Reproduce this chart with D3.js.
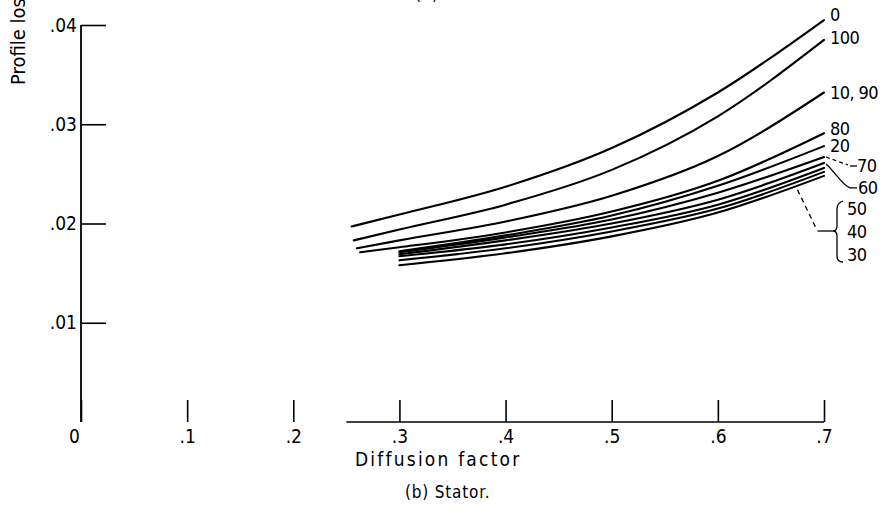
<!DOCTYPE html>
<html>
<head>
<meta charset="utf-8">
<script src="https://cdn.jsdelivr.net/npm/d3@7"></script>
<style>
  html, body { margin: 0; padding: 0; background: #fff; }
  svg { display: block; }
  text { font-family: "DejaVu Sans Condensed", "Liberation Sans Narrow", sans-serif; fill: #000; }
</style>
</head>
<body>
<svg id="chart" width="892" height="514"></svg>
<script>
// Axis ticks
const xTicks = [0, 0.1, 0.2, 0.3, 0.4, 0.5, 0.6, 0.7];
const yTicks = [0.01, 0.02, 0.03, 0.04];

// Profile loss vs. diffusion factor, one curve per immersion percentage: [diffusion factor, loss]
const loss0   = [[0.255, 0.0197], [0.3, 0.0209], [0.4, 0.0237], [0.5, 0.0276], [0.6, 0.0332], [0.7, 0.0405]];
const loss100 = [[0.257, 0.0183], [0.3, 0.0194], [0.4, 0.0219], [0.5, 0.0254], [0.6, 0.0308], [0.7, 0.0385]];
const loss10  = [[0.260, 0.0175], [0.3, 0.0183], [0.4, 0.0202], [0.5, 0.0228], [0.6, 0.0268], [0.7, 0.0332]];
const loss80  = [[0.263, 0.0171], [0.3, 0.0176], [0.4, 0.0191], [0.5, 0.0212], [0.6, 0.0243], [0.7, 0.0291]];
const loss20  = [[0.3, 0.0172], [0.4, 0.0188], [0.5, 0.0208], [0.6, 0.0238], [0.7, 0.0278]];
const loss70  = [[0.3, 0.0171], [0.4, 0.0186], [0.5, 0.0204], [0.6, 0.0231], [0.7, 0.0267]];
const loss60  = [[0.3, 0.0169], [0.4, 0.0183], [0.5, 0.0200], [0.6, 0.0224], [0.7, 0.0261]];
const loss50  = [[0.3, 0.0167], [0.4, 0.0179], [0.5, 0.0196], [0.6, 0.0219], [0.7, 0.0256]];
const loss40  = [[0.3, 0.0163], [0.4, 0.0175], [0.5, 0.0192], [0.6, 0.0215], [0.7, 0.0252]];
const loss30  = [[0.3, 0.0158], [0.4, 0.0170], [0.5, 0.0187], [0.6, 0.0211], [0.7, 0.0248]];

const seriesLabels = ["0", "100", "10, 90", "80", "20", "70", "60", "50", "40", "30"];
const seriesData = [loss0, loss100, loss10, loss80, loss20, loss70, loss60, loss50, loss40, loss30];

const svg = d3.select("#chart");
const FONT = 19;
const LABEL_FONT = 18;

const x = d3.scaleLinear().domain([0, 0.7]).range([81, 824]);
const y = d3.scaleLinear().domain([0, 0.04]).range([422, 25]);

const trimZero = v => v === 0 ? "0" : d3.format(".2~f")(v).replace(/^0/, "");

// Y axis: ticks pointing into the plot
const yAxis = svg.append("g")
  .attr("transform", `translate(${x(0)},0)`)
  .call(d3.axisLeft(y).tickValues(yTicks).tickSizeInner(-25).tickSizeOuter(0).tickPadding(4).tickFormat(trimZero));
yAxis.select(".domain").remove();
yAxis.selectAll(".tick line").attr("stroke", "#000").attr("stroke-width", 1.6);
yAxis.selectAll("text").attr("font-size", FONT).attr("font-family", null);
svg.append("line")
  .attr("x1", x(0)).attr("x2", x(0)).attr("y1", y(0.04)).attr("y2", y(0))
  .attr("stroke", "#000").attr("stroke-width", 1.8);

// X axis: upward ticks, baseline drawn only under the plotted range
const xAxis = svg.append("g")
  .attr("transform", `translate(0,${y(0)})`)
  .call(d3.axisBottom(x).tickValues(xTicks).tickSizeInner(-22).tickSizeOuter(0).tickPadding(8).tickFormat(trimZero));
xAxis.select(".domain").remove();
xAxis.selectAll(".tick line").attr("stroke", "#000").attr("stroke-width", 1.6);
xAxis.selectAll("text").attr("font-size", FONT).attr("font-family", null);
xAxis.selectAll(".tick").filter(d => d === 0).select("text").attr("dx", -7);
svg.append("line")
  .attr("x1", x(0.25)).attr("x2", x(0.7)).attr("y1", y(0)).attr("y2", y(0))
  .attr("stroke", "#000").attr("stroke-width", 1.3);

// Curves
const line = d3.line().x(d => x(d[0])).y(d => y(d[1])).curve(d3.curveMonotoneX);
svg.append("g")
  .selectAll("path")
  .data(seriesData)
  .join("path")
  .attr("d", line)
  .attr("fill", "none")
  .attr("stroke", "#000")
  .attr("stroke-width", 2.1)
  .attr("stroke-linecap", "round");

// Curve labels
const endOf = s => s[s.length - 1];
const labels = svg.append("g").attr("font-size", LABEL_FONT).attr("letter-spacing", -0.6);
function label(txt, px, py) {
  labels.append("text").attr("x", px).attr("y", py).attr("dy", "0.36em").text(txt);
}
const xe = x(0.7);
label(seriesLabels[0], xe + 6, y(endOf(loss0)[1]) - 6);
label(seriesLabels[1], xe + 6, y(endOf(loss100)[1]) - 2);
label(seriesLabels[2], xe + 6, y(endOf(loss10)[1]));
label(seriesLabels[3], xe + 6, y(endOf(loss80)[1]) - 5);
label(seriesLabels[4], xe + 6, y(endOf(loss20)[1]) - 1);

// 70: dashed leader
const y70 = y(endOf(loss70)[1]);
svg.append("path")
  .attr("d", `M${xe + 2},${y70} L${xe + 24},${y70 + 8}`)
  .attr("fill", "none").attr("stroke", "#000").attr("stroke-width", 1.3).attr("stroke-dasharray", "4,3");
svg.append("path")
  .attr("d", `M${xe + 26},${y70 + 9} L${xe + 33},${y70 + 9}`)
  .attr("fill", "none").attr("stroke", "#000").attr("stroke-width", 1.3);
label(seriesLabels[5], xe + 33, y70 + 9);

// 60: curved leader
const y60 = y(endOf(loss60)[1]);
svg.append("path")
  .attr("d", `M${xe + 2},${y60 + 1} C${xe + 12},${y60 + 10} ${xe + 18},${y60 + 22} ${xe + 26},${y60 + 25} L${xe + 33},${y60 + 25}`)
  .attr("fill", "none").attr("stroke", "#000").attr("stroke-width", 1.3);
label(seriesLabels[6], xe + 34, y60 + 25);

// 50 / 40 / 30: brace with dashed leader
const yB = 231;
const bx = xe + 19;
svg.append("path")
  .attr("d", `M${bx},${yB - 30} Q${bx - 6},${yB - 28} ${bx - 6},${yB - 22} L${bx - 6},${yB - 5} Q${bx - 6},${yB} ${bx - 10},${yB} Q${bx - 6},${yB} ${bx - 6},${yB + 5} L${bx - 6},${yB + 25} Q${bx - 6},${yB + 31} ${bx},${yB + 31}`)
  .attr("fill", "none").attr("stroke", "#000").attr("stroke-width", 1.3);
const xd = x(0.675);
svg.append("path")
  .attr("d", `M${xd},${y(0.0238) + 4} L${xd + 19},${yB - 2}`)
  .attr("fill", "none").attr("stroke", "#000").attr("stroke-width", 1.3).attr("stroke-dasharray", "5,4");
svg.append("path")
  .attr("d", `M${xd + 20},${yB} L${bx - 10},${yB}`)
  .attr("fill", "none").attr("stroke", "#000").attr("stroke-width", 1.3);
label(seriesLabels[7], bx + 4, yB - 22);
label(seriesLabels[8], bx + 4, yB + 1);
label(seriesLabels[9], bx + 4, yB + 24);

// Titles
svg.append("text")
  .attr("x", 18).attr("y", 85)
  .attr("transform", "rotate(-90,18,85)")
  .attr("dy", "0.36em")
  .attr("font-size", 20)
  .text("Profile loss");

svg.append("text")
  .attr("x", 355).attr("y", 459).attr("dy", "0.36em")
  .attr("font-size", 19).attr("letter-spacing", 2.2)
  .text("Diffusion factor");

svg.append("text")
  .attr("x", 405).attr("y", 492).attr("dy", "0.36em")
  .attr("font-size", 17).attr("letter-spacing", 0.8)
  .text("(b) Stator.");

svg.append("text")
  .attr("x", 415).attr("y", 0)
  .attr("font-size", 17).attr("letter-spacing", 0.8)
  .text("(a) Rotor.");
</script>
</body>
</html>
